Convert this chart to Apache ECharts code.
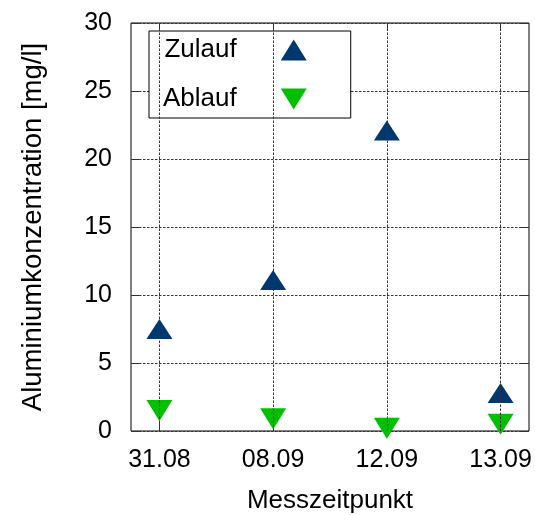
<!DOCTYPE html>
<html>
<head>
<meta charset="utf-8">
<script src="https://cdn.jsdelivr.net/npm/echarts@6/dist/echarts.min.js"></script>
<style>html,body{margin:0;padding:0;background:#fff}#c{width:535px;height:515px}</style>
</head>
<body>
<div id="c"></div>
<script>
const categories = ['31.08', '08.09', '12.09', '13.09'];
const zulauf = [7.5, 11.1, 22.1, 2.8];
const ablauf = [1.5, 0.9, 0.2, 0.5];
const yTicks = [0, 5, 10, 15, 20, 25, 30];

const FONT = 'Liberation Sans';
const idx = categories.map((c, i) => i);
const dash = { color: '#333', width: 1, type: [2.5, 1.5] };
const tickStyle = { color: '#333', width: 1 };

const chart = echarts.init(document.getElementById('c'), null, { renderer: 'canvas' });
chart.setOption({
  animation: false,
  backgroundColor: '#fff',
  textStyle: { fontFamily: FONT },
  grid: { left: 131, right: 6, top: 23, bottom: 84, outerBoundsMode: 'none', containLabel: false, show: true, borderColor: '#000', borderWidth: 1, backgroundColor: 'transparent' },
  legend: {
    left: 149, top: 31,
    orient: 'vertical',
    align: 'right',
    backgroundColor: '#fff',
    borderColor: '#000', borderWidth: 1, borderRadius: 0,
    padding: [6, 44, 6, 14],
    itemWidth: 26, itemHeight: 21, itemGap: 23,
    textStyle: { fontFamily: FONT, fontSize: 26, color: '#000', padding: [0, 39, 0, 0] },
    data: ['Zulauf', 'Ablauf']
  },
  xAxis: [{
    type: 'value', min: -0.25, max: 3.25,
    name: 'Messzeitpunkt', nameLocation: 'middle', nameGap: 57,
    nameTextStyle: { fontFamily: FONT, fontSize: 26, color: '#000' },
    axisLine: { show: false, onZero: false },
    axisTick: { show: true, inside: true, length: 8, customValues: idx, lineStyle: tickStyle },
    axisLabel: { customValues: idx, formatter: v => categories[Math.round(v)], fontFamily: FONT, fontSize: 25, color: '#000', margin: 17 },
    splitLine: { show: false }
  }, {
    type: 'value', min: -0.25, max: 3.25, position: 'top',
    axisLine: { show: false, onZero: false },
    axisTick: { show: true, inside: true, length: 8, customValues: idx, lineStyle: tickStyle },
    axisLabel: { show: false, customValues: idx },
    splitLine: { show: false }
  }],
  yAxis: [{
    type: 'value', min: 0, max: 30, interval: 5, position: 'left',
    name: 'Aluminiumkonzentration [mg/l]', nameLocation: 'middle', nameGap: 84,
    nameTextStyle: { fontFamily: FONT, fontSize: 27.5, color: '#000' },
    axisLine: { show: false, onZero: false },
    axisTick: { show: true, inside: true, length: 9, lineStyle: tickStyle },
    axisLabel: { fontFamily: FONT, fontSize: 25, color: '#000', margin: 19, formatter: v => yTicks.includes(v) ? String(v) : '' },
    splitLine: { show: true, lineStyle: dash }
  }, {
    type: 'value', min: 0, max: 30, interval: 5, position: 'right',
    axisLine: { show: false, onZero: false },
    axisTick: { show: true, inside: true, length: 9, lineStyle: tickStyle },
    axisLabel: { show: false },
    splitLine: { show: false }
  }],
  series: [{
    name: 'Zulauf', type: 'scatter',
    symbol: 'triangle', symbolSize: [26, 20],
    itemStyle: { color: '#00376e', opacity: 1 },
    data: zulauf.map((v, i) => [i, v]),
    markLine: {
      silent: true, symbol: 'none', label: { show: false },
      lineStyle: dash,
      data: idx.map(i => ({ xAxis: i }))
    },
    z: 3
  }, {
    name: 'Ablauf', type: 'scatter',
    symbol: 'path://M0,0 L26,0 L13,21 Z', symbolSize: [26, 21],
    itemStyle: { color: '#00c000', opacity: 1 },
    data: ablauf.map((v, i) => [i, v]),
    z: 3
  }]
});
</script>
</body>
</html>
